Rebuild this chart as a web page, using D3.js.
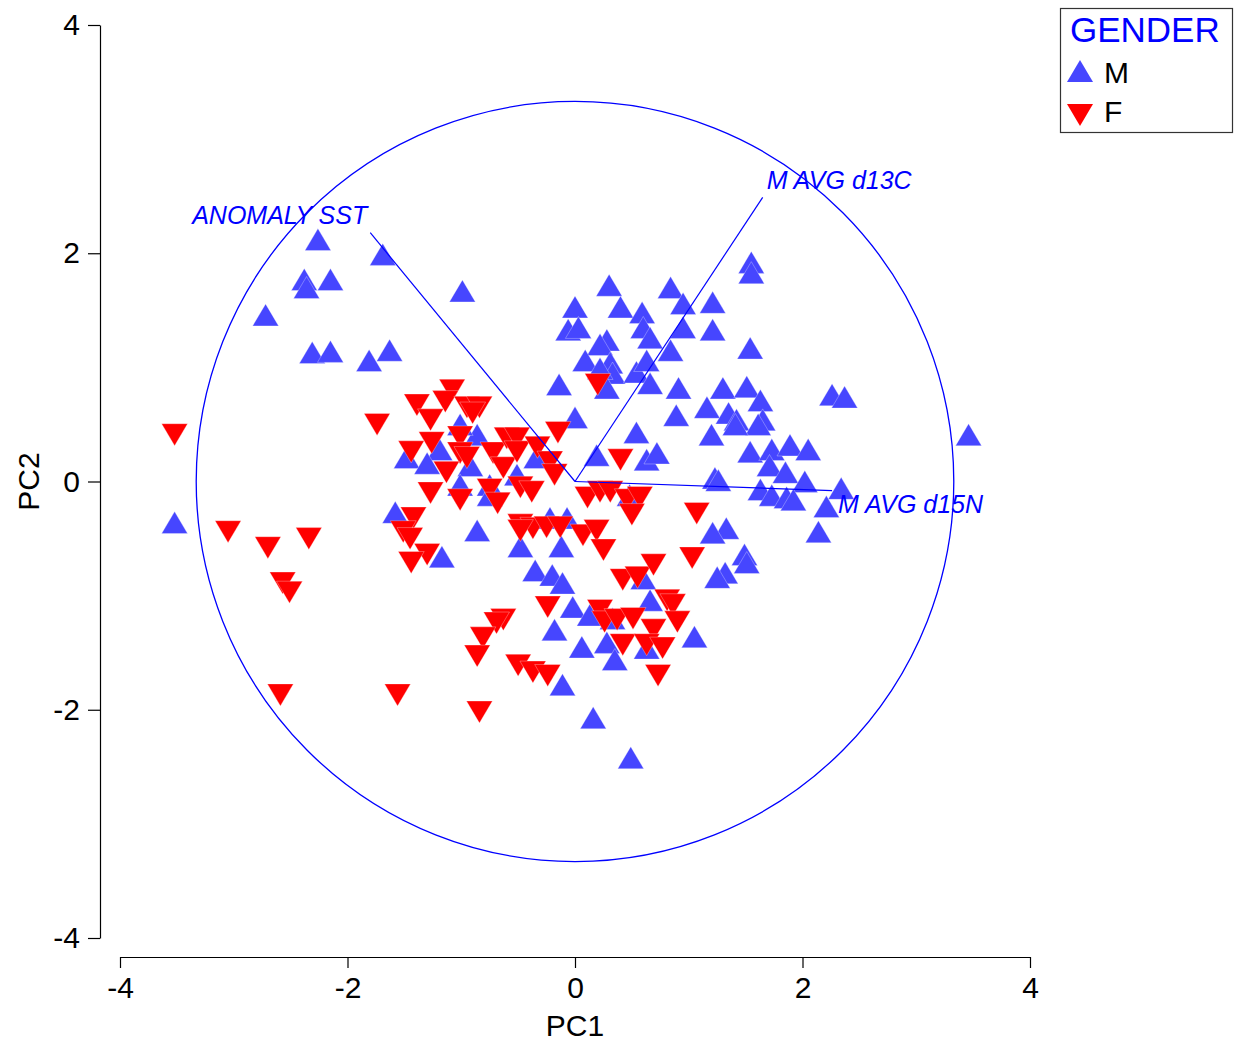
<!DOCTYPE html>
<html>
<head>
<meta charset="utf-8">
<script src="https://cdn.jsdelivr.net/npm/d3@7.9.0/dist/d3.min.js"></script>
<style>
  body { margin: 0; background: #fff; }
  svg { display: block; font-family: "Liberation Sans", Arial, sans-serif; }
</style>
</head>
<body>
<div id="chart"></div>
<script>
// PCA scores: [PC1, PC2]
const maleScores = [
  [-2.26, 2.12], [-2.38, 1.77], [-2.36, 1.70], [-2.15, 1.77], [-2.72, 1.46],
  [-1.69, 1.99], [-2.31, 1.13], [-2.15, 1.14], [-1.81, 1.06], [-1.63, 1.15],
  [-0.99, 1.67], [-3.52, -0.36], [3.46, 0.41], [0.30, 1.72], [0.00, 1.53],
  [-0.06, 1.33], [0.03, 1.35], [0.40, 1.53], [0.84, 1.70], [0.95, 1.56],
  [0.59, 1.48], [0.60, 1.35], [0.66, 1.26], [1.21, 1.57], [1.21, 1.33],
  [0.95, 1.35], [0.84, 1.15], [0.28, 1.24], [0.22, 1.20], [0.09, 1.06],
  [0.31, 1.04], [0.33, 0.95], [0.22, 0.99], [0.54, 0.96], [0.63, 1.06],
  [0.66, 0.86], [-0.14, 0.85], [0.28, 0.82], [0.91, 0.82], [0.89, 0.58],
  [0.54, 0.43], [0.00, 0.56], [1.20, 0.41], [1.55, 1.92], [1.55, 1.83],
  [1.54, 1.17], [2.26, 0.76], [2.37, 0.74], [1.30, 0.82], [1.51, 0.83],
  [1.63, 0.71], [1.16, 0.65], [1.35, 0.60], [1.42, 0.54], [1.65, 0.54],
  [1.61, 0.50], [1.41, 0.50], [1.54, 0.26], [1.73, 0.28], [1.89, 0.32],
  [2.05, 0.28], [1.71, 0.14], [1.85, 0.08], [2.02, 0.00], [1.23, 0.03],
  [1.26, 0.01], [1.63, -0.07], [1.73, -0.12], [1.86, -0.14], [1.92, -0.16],
  [2.34, -0.06], [2.21, -0.22], [2.14, -0.44], [1.33, -0.41], [1.49, -0.64],
  [1.51, -0.71], [1.32, -0.80], [1.05, -1.36], [0.63, 0.19], [0.72, 0.25],
  [0.19, 0.23], [0.48, -0.12], [-0.34, 0.21], [-0.51, 0.06], [-0.75, -0.03],
  [-0.75, -0.12], [-0.86, 0.41], [-1.01, 0.50], [-1.19, 0.28], [-1.48, 0.21],
  [-1.30, 0.16], [-0.92, 0.14], [-1.01, -0.03], [-0.86, -0.43], [-0.48, -0.57],
  [-0.22, -0.32], [-0.07, -0.32], [-0.12, -0.57], [-1.58, -0.27], [-1.17, -0.66],
  [-0.35, -0.78], [-0.20, -0.82], [-0.11, -0.89], [-0.02, -1.10], [-0.18, -1.30],
  [0.60, -0.85], [0.66, -1.04], [0.33, -1.20], [0.13, -1.17], [0.06, -1.45],
  [0.28, -1.41], [0.35, -1.56], [0.63, -1.46], [-0.11, -1.78], [0.16, -2.07],
  [0.49, -2.42], [1.25, -0.84], [1.21, -0.45]
];

const femaleScores = [
  [-3.52, 0.41], [-3.05, -0.44], [-2.70, -0.58], [-2.34, -0.50], [-2.57, -0.89],
  [-2.51, -0.97], [-2.59, -1.87], [-1.56, -1.87], [-1.74, 0.50], [-1.08, 0.80],
  [-1.14, 0.70], [-1.39, 0.67], [-1.27, 0.54], [-0.95, 0.65], [-0.84, 0.65],
  [-0.90, 0.60], [-1.01, 0.39], [-1.26, 0.34], [-1.44, 0.26], [-1.01, 0.25],
  [-0.95, 0.21], [-1.13, 0.08], [-1.27, -0.10], [-1.01, -0.16], [-0.72, 0.25],
  [-0.60, 0.38], [-0.51, 0.38], [-0.63, 0.12], [-0.51, 0.26], [-0.75, -0.07],
  [-0.68, -0.19], [-0.48, -0.05], [-0.38, -0.09], [-0.15, 0.43], [-0.33, 0.30],
  [-0.22, 0.17], [-0.18, 0.06], [-1.42, -0.32], [-1.51, -0.44], [-1.45, -0.50],
  [-1.30, -0.64], [-1.44, -0.71], [-0.48, -0.38], [-0.37, -0.41], [-0.25, -0.40],
  [-0.13, -0.40], [0.20, 0.85], [0.40, 0.19], [0.11, -0.14], [0.22, -0.09],
  [0.31, -0.09], [0.46, -0.16], [0.57, -0.14], [0.50, -0.29], [1.07, -0.28],
  [-0.48, -0.43], [0.07, -0.47], [0.19, -0.43], [0.25, -0.60], [0.42, -0.86],
  [0.55, -0.84], [0.69, -0.73], [1.03, -0.67], [-0.24, -1.10], [0.22, -1.13],
  [0.26, -1.23], [0.37, -1.21], [0.51, -1.20], [0.81, -1.04], [0.86, -1.08],
  [0.90, -1.23], [0.69, -1.30], [0.42, -1.43], [0.63, -1.43], [0.77, -1.46],
  [0.73, -1.70], [-0.63, -1.21], [-0.69, -1.24], [-0.81, -1.37], [-0.86, -1.53],
  [-0.50, -1.61], [-0.37, -1.67], [-0.24, -1.70], [-0.84, -2.02]
];

// loading vectors (scaled) and their names
const loadingNames = ['ANOMALY SST', 'M AVG d13C', 'M AVG d15N'];
const loadingPC1 = [-1.80, 1.65, 2.26];
const loadingPC2 = [2.18, 2.49, -0.08];
const circleRadius = 3.33;

const axisTicks = [-4, -2, 0, 2, 4];
const legendTitle = 'GENDER';
const legendLabels = ['M', 'F'];

const width = 1234, height = 1045;
const blue = '#4646ff', red = '#ff0000', lineBlue = '#0000ff';

const svg = d3.select('#chart').append('svg')
  .attr('width', width).attr('height', height);

const x = d3.scaleLinear().domain([-4, 4]).range([120, 1030]);
const y = d3.scaleLinear().domain([-4, 4]).range([938, 25]);

// triangle markers
const up = 'M0,-11L13,11L-13,11Z';
const down = 'M-13,-11L13,-11L0,11Z';

// axes
const xAxis = svg.append('g')
  .attr('transform', 'translate(0,957)')
  .call(d3.axisBottom(x).tickValues(axisTicks).tickSize(11).tickSizeOuter(0).tickPadding(9)
    .tickFormat(d3.format('d')));
const yAxis = svg.append('g')
  .attr('transform', 'translate(100,0)')
  .call(d3.axisLeft(y).tickValues(axisTicks).tickSize(12).tickSizeOuter(0).tickPadding(8)
    .tickFormat(d3.format('d')));

[xAxis, yAxis].forEach(g => {
  g.selectAll('text').attr('font-size', 30).attr('fill', '#000')
    .attr('font-family', '"Liberation Sans", Arial, sans-serif');
  g.selectAll('line, path').attr('stroke', '#000').attr('stroke-width', 1.2);
});
// plain hyphen for negatives, like the original
svg.selectAll('.tick text').text(d => String(d));

svg.append('text')
  .attr('x', x(0)).attr('y', 1036)
  .attr('text-anchor', 'middle').attr('font-size', 30)
  .text('PC1');
svg.append('text')
  .attr('transform', `translate(39,${y(0)}) rotate(-90)`)
  .attr('text-anchor', 'middle').attr('font-size', 30)
  .text('PC2');

// points
svg.append('g').selectAll('path')
  .data(maleScores)
  .join('path')
  .attr('d', up)
  .attr('transform', d => `translate(${x(d[0])},${y(d[1])})`)
  .attr('fill', blue)
  .attr('stroke', '#ffffff').attr('stroke-opacity', 0.5).attr('stroke-width', 0.6);

svg.append('g').selectAll('path')
  .data(femaleScores)
  .join('path')
  .attr('d', down)
  .attr('transform', d => `translate(${x(d[0])},${y(d[1])})`)
  .attr('fill', red)
  .attr('stroke', '#ffffff').attr('stroke-opacity', 0.5).attr('stroke-width', 0.6);

// correlation circle
svg.append('ellipse')
  .attr('cx', x(0)).attr('cy', y(0))
  .attr('rx', x(circleRadius) - x(0))
  .attr('ry', y(0) - y(circleRadius))
  .attr('fill', 'none').attr('stroke', lineBlue).attr('stroke-width', 1.3);

// loading vectors
const loadings = loadingNames.map((name, i) => ({ name, pc1: loadingPC1[i], pc2: loadingPC2[i] }));
const labelPlace = [
  { dx: -3, dy: -9, anchor: 'end' },
  { dx: 4, dy: -8, anchor: 'start' },
  { dx: 6, dy: 22, anchor: 'start' }
];

svg.append('g').selectAll('line')
  .data(loadings)
  .join('line')
  .attr('x1', x(0)).attr('y1', y(0))
  .attr('x2', d => x(d.pc1)).attr('y2', d => y(d.pc2))
  .attr('stroke', lineBlue).attr('stroke-width', 1.2);

svg.append('g').selectAll('text')
  .data(loadings)
  .join('text')
  .attr('x', (d, i) => x(d.pc1) + labelPlace[i].dx)
  .attr('y', (d, i) => y(d.pc2) + labelPlace[i].dy)
  .attr('text-anchor', (d, i) => labelPlace[i].anchor)
  .attr('font-size', 25).attr('font-style', 'italic')
  .attr('fill', lineBlue)
  .text(d => d.name);

// legend
const legend = svg.append('g');
legend.append('rect')
  .attr('x', 1060.5).attr('y', 8.5).attr('width', 172).attr('height', 124)
  .attr('fill', '#fff').attr('stroke', '#333').attr('stroke-width', 1.2);
legend.append('text')
  .attr('x', 1070).attr('y', 42)
  .attr('font-size', 35).attr('fill', lineBlue)
  .text(legendTitle);
legendLabels.forEach((lab, i) => {
  const cy = 71 + i * 44;
  legend.append('path')
    .attr('d', i === 0 ? up : down)
    .attr('transform', `translate(1080,${cy})`)
    .attr('fill', i === 0 ? blue : red);
  legend.append('text')
    .attr('x', 1104).attr('y', 83 + i * 39)
    .attr('font-size', 30).attr('fill', '#000')
    .text(lab);
});
</script>
</body>
</html>
